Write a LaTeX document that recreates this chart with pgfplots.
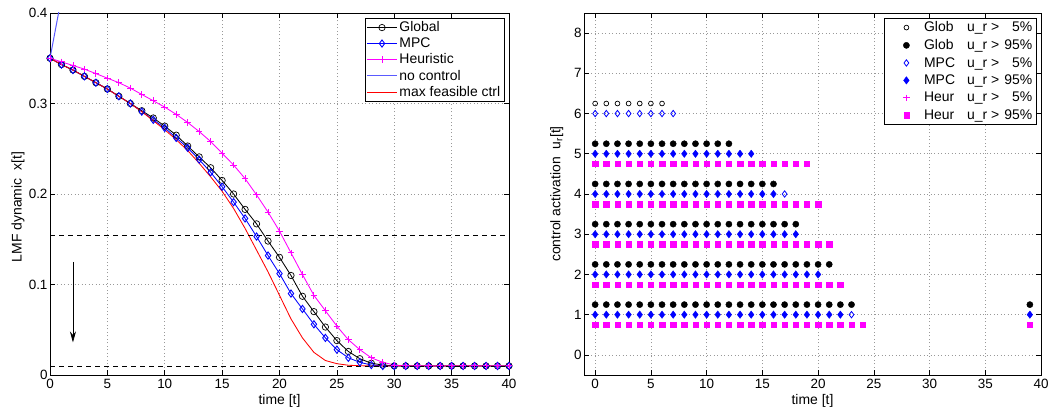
\documentclass[border=0pt]{standalone}
\usepackage{fontspec}
\setmainfont{Liberation Sans}
\usepackage{pgfplots}
\pgfplotsset{compat=1.18}
\usetikzlibrary{arrows.meta}
\definecolor{mag}{RGB}{255,0,255}
\definecolor{nocol}{RGB}{90,90,255}
\begin{document}
\begin{tikzpicture}
\useasboundingbox (0bp,0bp) rectangle (1055bp,412bp);
\pgfplotsset{
 mystyle/.style={
  scale only axis, height=362bp, anchor=south west,
  axis line style={line width=0.8bp},
  tick align=inside, major tick length=5bp, tick style={line width=0.6bp, black},
  grid=major, grid style={dash pattern=on 1bp off 2.5bp, gray!80, line width=0.6bp},
  tick label style={font=\fontsize{13.5}{15}\selectfont},
  label style={font=\fontsize{14}{16}\selectfont},
  /pgf/number format/assume math mode=true,
  legend cell align=left,
  legend style={font=\fontsize{14}{16}\selectfont, anchor=north east, at={(0.989,0.986)}, inner sep=1.5bp, row sep=0.6bp},
  xlabel style={at={(axis description cs:0.5,0)}, anchor=base, yshift=-29bp},
  xticklabel style={yshift=-1bp},
  yticklabel style={xshift=1bp},
 }
}
% ---------- left axis ----------
\begin{axis}[mystyle, at={(50bp,37bp)}, width=459bp,
  xmin=0, xmax=40, ymin=0, ymax=0.4,
  xtick={0,5,...,40}, ytick={0,0.1,0.2,0.3,0.4}, yticklabels={0,0.1,0.2,0.3,0.4},
  xlabel={time [t]}, ylabel={LMF dynamic\ \ x[t]},
  ylabel style={at={(axis description cs:-0.0697,0.464)}, anchor=center},
  legend image code/.code={\draw[mark repeat=2,mark phase=2] plot coordinates {(0bp,0bp) (15bp,0bp) (30bp,0bp)};},
  every axis plot/.append style={line width=0.85bp},
]
\addplot[black, mark=o, mark size=3.2bp, mark options={line width=0.7bp}] coordinates {
(0,0.350)(1,0.343)(2,0.337)(3,0.330)(4,0.323)(5,0.316)(6,0.308)(7,0.300)(8,0.292)(9,0.284)
(10,0.275)(11,0.265)(12,0.253)(13,0.241)(14,0.229)(15,0.215)(16,0.200)(17,0.183)(18,0.167)(19,0.148)
(20,0.130)(21,0.110)(22,0.087)(23,0.070)(24,0.053)(25,0.038)(26,0.026)(27,0.018)(28,0.013)(29,0.011)
(30,0.010)(31,0.010)(32,0.010)(33,0.010)(34,0.010)(35,0.010)(36,0.010)(37,0.010)(38,0.010)(39,0.010)(40,0.010)};
\addlegendentry{Global}
\addplot[blue, mark=diamond, mark size=3.6bp, mark options={line width=0.9bp}] coordinates {
(0,0.350)(1,0.343)(2,0.337)(3,0.330)(4,0.323)(5,0.316)(6,0.308)(7,0.300)(8,0.291)(9,0.282)
(10,0.273)(11,0.262)(12,0.251)(13,0.238)(14,0.224)(15,0.208)(16,0.191)(17,0.173)(18,0.153)(19,0.132)
(20,0.112)(21,0.090)(22,0.073)(23,0.056)(24,0.041)(25,0.028)(26,0.019)(27,0.014)(28,0.011)(29,0.010)
(30,0.010)(31,0.010)(32,0.010)(33,0.010)(34,0.010)(35,0.010)(36,0.010)(37,0.010)(38,0.010)(39,0.010)(40,0.010)};
\addlegendentry{MPC}
\addplot[mag, mark=+, mark size=3.3bp, mark options={line width=0.9bp}] coordinates {
(0,0.350)(1,0.346)(2,0.342)(3,0.338)(4,0.333)(5,0.328)(6,0.323)(7,0.317)(8,0.310)(9,0.303)
(10,0.296)(11,0.288)(12,0.279)(13,0.269)(14,0.258)(15,0.245)(16,0.232)(17,0.217)(18,0.199)(19,0.180)
(20,0.159)(21,0.135)(22,0.111)(23,0.088)(24,0.071)(25,0.054)(26,0.039)(27,0.028)(28,0.019)(29,0.014)
(30,0.011)(31,0.010)(32,0.010)(33,0.010)(34,0.010)(35,0.010)(36,0.010)(37,0.010)(38,0.010)(39,0.010)(40,0.010)};
\addlegendentry{Heuristic}
\addplot[nocol, line width=1bp] coordinates {(0,0.350)(1,0.417)};
\addlegendentry{no control}
\addplot[red] coordinates {
(0,0.350)(1,0.343)(2,0.337)(3,0.330)(4,0.323)(5,0.316)(6,0.308)(7,0.300)(8,0.291)(9,0.281)
(10,0.271)(11,0.260)(12,0.248)(13,0.234)(14,0.219)(15,0.203)(16,0.184)(17,0.162)(18,0.138)(19,0.114)
(20,0.088)(21,0.062)(22,0.041)(23,0.025)(24,0.016)(25,0.0125)(26,0.0108)(27,0.0102)(28,0.010)
(30,0.010)(35,0.010)(40,0.010)};
\addlegendentry{max feasible ctrl}
\addplot[black, dash pattern=on 5bp off 4bp, line width=0.7bp, forget plot] coordinates {(0,0.154)(40,0.154)};
\addplot[black, dash pattern=on 5bp off 4bp, line width=0.7bp, forget plot] coordinates {(0,0.010)(40,0.010)};
\addplot[black, line width=0.7bp, -{Stealth[length=11bp,width=6bp]}, forget plot] coordinates {(2,0.125)(2,0.036)};
\end{axis}
% ---------- right axis ----------
\begin{axis}[mystyle, at={(584bp,37bp)}, width=457bp,
  xmin=-1, xmax=40, ymin=-0.5, ymax=8.5,
  xtick={0,5,...,40}, ytick={0,1,...,8},
  xlabel={time [t]}, ylabel={control activation\ \ u\textsubscript{r}[t]},
  ylabel style={at={(axis description cs:-0.0597,0.5)}, anchor=center},
  legend image code/.code={\draw plot coordinates {(20.5bp,0bp)};\path (0bp,0bp) (36bp,0bp);},
  legend style={row sep=2.2bp},
  every axis plot/.append style={only marks},
]
\addplot[black, mark=o, mark size=2.4bp, mark options={line width=0.7bp}] coordinates {
(0,6.25)(1,6.25)(2,6.25)(3,6.25)(4,6.25)(5,6.25)(6,6.25)};
\addlegendentry{\makebox[43bp][l]{Glob}u\_r >\makebox[33bp][r]{5\%}}
\addplot[black, mark=*, mark size=3.1bp] coordinates {
(0,5.25)(1,5.25)(2,5.25)(3,5.25)(4,5.25)(5,5.25)(6,5.25)(7,5.25)(8,5.25)(9,5.25)(10,5.25)(11,5.25)(12,5.25)
(0,4.25)(1,4.25)(2,4.25)(3,4.25)(4,4.25)(5,4.25)(6,4.25)(7,4.25)(8,4.25)(9,4.25)(10,4.25)(11,4.25)(12,4.25)(13,4.25)(14,4.25)(15,4.25)(16,4.25)
(0,3.25)(1,3.25)(2,3.25)(3,3.25)(4,3.25)(5,3.25)(6,3.25)(7,3.25)(8,3.25)(9,3.25)(10,3.25)(11,3.25)(12,3.25)(13,3.25)(14,3.25)(15,3.25)(16,3.25)(17,3.25)(18,3.25)
(0,2.25)(1,2.25)(2,2.25)(3,2.25)(4,2.25)(5,2.25)(6,2.25)(7,2.25)(8,2.25)(9,2.25)(10,2.25)(11,2.25)(12,2.25)(13,2.25)(14,2.25)(15,2.25)(16,2.25)(17,2.25)(18,2.25)(19,2.25)(20,2.25)(21,2.25)
(0,1.25)(1,1.25)(2,1.25)(3,1.25)(4,1.25)(5,1.25)(6,1.25)(7,1.25)(8,1.25)(9,1.25)(10,1.25)(11,1.25)(12,1.25)(13,1.25)(14,1.25)(15,1.25)(16,1.25)(17,1.25)(18,1.25)(19,1.25)(20,1.25)(21,1.25)(22,1.25)(23,1.25)
(39,1.25)};
\addlegendentry{\makebox[43bp][l]{Glob}u\_r >\makebox[33bp][r]{95\%}}
\addplot[blue, mark=diamond, mark size=3.2bp, mark options={line width=0.8bp}] coordinates {
(0,6)(1,6)(2,6)(3,6)(4,6)(5,6)(6,6)(7,6)(17,4)(23,1)};
\addlegendentry{\makebox[43bp][l]{MPC}u\_r >\makebox[33bp][r]{5\%}}
\addplot[blue, mark=diamond*, mark size=3.7bp] coordinates {
(0,5)(1,5)(2,5)(3,5)(4,5)(5,5)(6,5)(7,5)(8,5)(9,5)(10,5)(11,5)(12,5)(13,5)(14,5)
(0,4)(1,4)(2,4)(3,4)(4,4)(5,4)(6,4)(7,4)(8,4)(9,4)(10,4)(11,4)(12,4)(13,4)(14,4)(15,4)(16,4)
(0,3)(1,3)(2,3)(3,3)(4,3)(5,3)(6,3)(7,3)(8,3)(9,3)(10,3)(11,3)(12,3)(13,3)(14,3)(15,3)(16,3)(17,3)(18,3)
(0,2)(1,2)(2,2)(3,2)(4,2)(5,2)(6,2)(7,2)(8,2)(9,2)(10,2)(11,2)(12,2)(13,2)(14,2)(15,2)(16,2)(17,2)(18,2)(19,2)(20,2)
(0,1)(1,1)(2,1)(3,1)(4,1)(5,1)(6,1)(7,1)(8,1)(9,1)(10,1)(11,1)(12,1)(13,1)(14,1)(15,1)(16,1)(17,1)(18,1)(19,1)(20,1)(21,1)(22,1)
(39,1)};
\addlegendentry{\makebox[43bp][l]{MPC}u\_r >\makebox[33bp][r]{95\%}}
\addlegendimage{mag, only marks, mark=+, mark size=3.2bp, mark options={line width=0.8bp}}
\addlegendentry{\makebox[43bp][l]{Heur}u\_r >\makebox[33bp][r]{5\%}}
\addplot[mag, mark=square*, mark size=2.7bp] coordinates {
(0,4.75)(1,4.75)(2,4.75)(3,4.75)(4,4.75)(5,4.75)(6,4.75)(7,4.75)(8,4.75)(9,4.75)(10,4.75)(11,4.75)(12,4.75)(13,4.75)(14,4.75)(15,4.75)(16,4.75)(17,4.75)(18,4.75)(19,4.75)
(0,3.75)(1,3.75)(2,3.75)(3,3.75)(4,3.75)(5,3.75)(6,3.75)(7,3.75)(8,3.75)(9,3.75)(10,3.75)(11,3.75)(12,3.75)(13,3.75)(14,3.75)(15,3.75)(16,3.75)(17,3.75)(18,3.75)(19,3.75)(20,3.75)
(0,2.75)(1,2.75)(2,2.75)(3,2.75)(4,2.75)(5,2.75)(6,2.75)(7,2.75)(8,2.75)(9,2.75)(10,2.75)(11,2.75)(12,2.75)(13,2.75)(14,2.75)(15,2.75)(16,2.75)(17,2.75)(18,2.75)(19,2.75)(20,2.75)(21,2.75)
(0,1.75)(1,1.75)(2,1.75)(3,1.75)(4,1.75)(5,1.75)(6,1.75)(7,1.75)(8,1.75)(9,1.75)(10,1.75)(11,1.75)(12,1.75)(13,1.75)(14,1.75)(15,1.75)(16,1.75)(17,1.75)(18,1.75)(19,1.75)(20,1.75)(21,1.75)(22,1.75)
(0,0.75)(1,0.75)(2,0.75)(3,0.75)(4,0.75)(5,0.75)(6,0.75)(7,0.75)(8,0.75)(9,0.75)(10,0.75)(11,0.75)(12,0.75)(13,0.75)(14,0.75)(15,0.75)(16,0.75)(17,0.75)(18,0.75)(19,0.75)(20,0.75)(21,0.75)(22,0.75)(23,0.75)(24,0.75)
(39,0.75)};
\addlegendentry{\makebox[43bp][l]{Heur}u\_r >\makebox[33bp][r]{95\%}}
\end{axis}
\end{tikzpicture}
\end{document}
